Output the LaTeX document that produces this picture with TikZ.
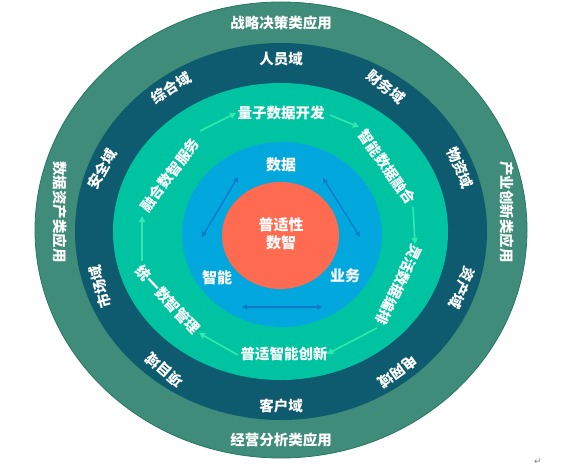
\documentclass[tikz,border=0pt]{standalone}
\usepackage{fontspec}
\newfontfamily\cjk{Noto Sans CJK SC}
\newfontfamily\dejavu{DejaVu Sans}
\usetikzlibrary{arrows.meta}
\definecolor{outerc}{RGB}{62,140,121}
\definecolor{outeredge}{RGB}{40,120,100}
\definecolor{darkc}{RGB}{14,90,110}
\definecolor{tealc}{RGB}{0,196,161}
\definecolor{bluec}{RGB}{2,168,221}
\definecolor{redc}{RGB}{255,107,80}
\definecolor{mint}{RGB}{48,232,176}
\definecolor{arrowblue}{RGB}{16,120,205}
\begin{document}
\begin{tikzpicture}[x=1pt,y=-1pt,
  lbl/.style={text=white,font=\cjk\bfseries\fontsize{14.5}{16}\selectfont,inner sep=0pt},
  inlbl/.style={text=white,font=\cjk\bfseries\fontsize{15}{18}\selectfont,inner sep=0pt,align=center},
  flow/.style={draw=mint,line width=1.6pt,-{Triangle[length=6pt,width=6pt]}},
  dbl/.style={draw=arrowblue,line width=1.3pt,{Triangle[length=5pt,width=5pt]}-{Triangle[length=5pt,width=5pt]}}]
\useasboundingbox (0,0) rectangle (561,473);
% rings
\fill[outerc,draw=outeredge,line width=0.8pt] (281,230) ellipse [x radius=246, y radius=228];
\fill[darkc] (281,231.5) ellipse [x radius=206, y radius=188.5];
\fill[tealc] (280.5,231.5) ellipse [x radius=167.5, y radius=148.5];
\fill[bluec] (282,234.5) ellipse [x radius=100, y radius=92.5];
\fill[redc] (280.5,235.5) ellipse [x radius=58.5, y radius=53.5];
% outer ring labels
\node[lbl] (o1) at (281,23) {战略决策类应用};
\node[lbl] (o2) at (281,440) {经营分析类应用};
\node[lbl,rotate=-90] (o3) at (60,212) {数据资产类应用};
\node[lbl,rotate=-90] (o4) at (507,212) {产业创新类应用};
% dark ring labels
\node[lbl] (d1) at (281,59) {人员域};
\node[lbl,rotate=-40] (d2) at (386,87) {财务域};
\node[lbl,rotate=-66] (d3) at (460,168) {物资域};
\node[lbl,rotate=-114] (d4) at (462,288) {资产域};
\node[lbl,rotate=-144] (d5) at (398,372) {电网域};
\node[lbl] (d6) at (281,406) {客户域};
\node[lbl,rotate=139] (d7) at (164,370) {项目域};
\node[lbl,rotate=105] (d8) at (100,287) {市场域};
\node[lbl,rotate=61] (d9) at (102,169) {安全域};
\node[lbl,rotate=32] (d10) at (171,88) {综合域};
% teal ring labels
\node[lbl] (t1) at (281,113) {量子数据开发};
\node[lbl,rotate=-55] (t2) at (387,167) {智能数据融合};
\node[lbl,rotate=-115.5] (t3) at (399,285) {灵活数据编排};
\node[lbl] (t4) at (284,354) {普适智能创新};
\node[lbl,rotate=-47] (t5) at (168,300) {统一数智管理};
\node[lbl,rotate=53] (t6) at (170,175) {融合数智服务};
% flow arrows
\coordinate (f1a) at (200,131); \coordinate (f1b) at (236,113);
\coordinate (f2a) at (330,115); \coordinate (f2b) at (359,127);
\coordinate (f3a) at (413,207); \coordinate (f3b) at (415,244);
\coordinate (f4a) at (377,328); \coordinate (f4b) at (327,354);
\coordinate (f5a) at (238,355); \coordinate (f5b) at (199,333);
\coordinate (f6a) at (142,261); \coordinate (f6b) at (142,216);
\draw[flow] (f1a) -- (f1b);
\draw[flow] (f2a) -- (f2b);
\draw[flow] (f3a) -- (f3b);
\draw[flow] (f4a) -- (f4b);
\draw[flow] (f5a) -- (f5b);
\draw[flow] (f6a) -- (f6b);
% blue circle labels
\node[inlbl] (b1) at (281,165) {数据};
\node[inlbl] (b2) at (217,278) {智能};
\node[inlbl] (b3) at (345,276) {业务};
\node[inlbl] (c) at (281,234) {普适性\\数智};
% blue double arrows
\coordinate (g1a) at (238,177); \coordinate (g1b) at (202,237);
\coordinate (g2a) at (323,178); \coordinate (g2b) at (360,237);
\coordinate (g3a) at (242,307); \coordinate (g3b) at (322,307);
\draw[dbl] (g1a) -- (g1b);
\draw[dbl] (g2a) -- (g2b);
\draw[dbl] (g3a) -- (g3b);
% return mark
\node[text=gray,font=\dejavu\fontsize{9}{10}\selectfont,inner sep=0pt] (ret) at (538,462) {↵};
\end{tikzpicture}
\end{document}
